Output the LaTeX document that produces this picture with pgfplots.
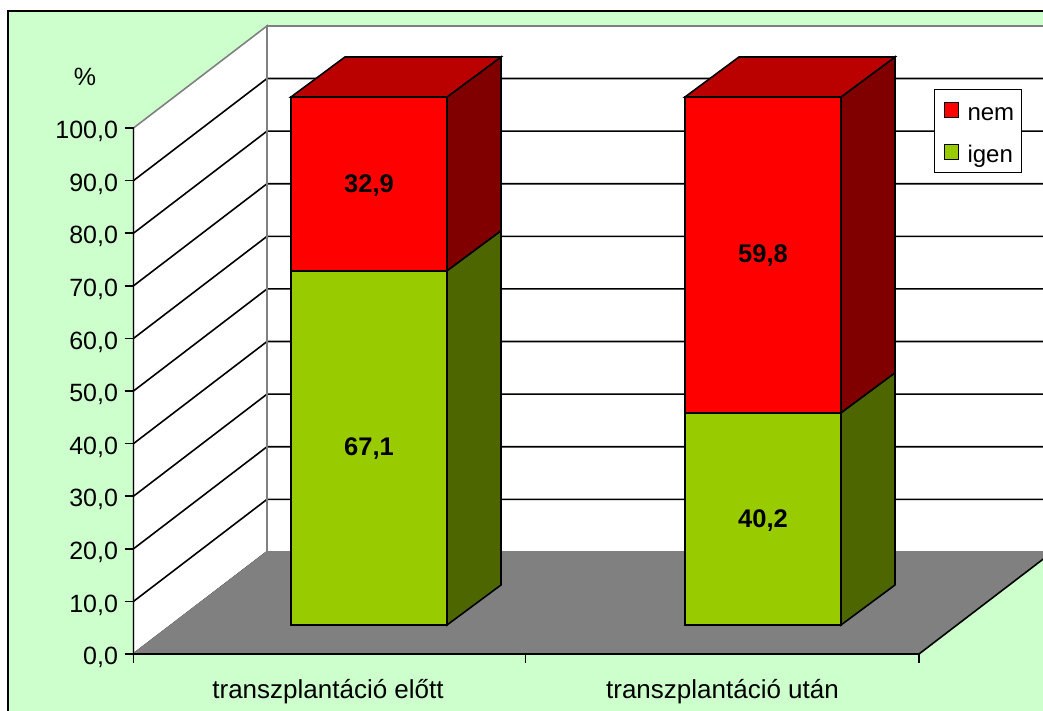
\documentclass[border=0pt]{standalone}
\usepackage{fontspec}
\setmainfont{Liberation Sans}
\usepackage{pgfplots}
\pgfplotsset{compat=1.18}
\definecolor{chartbg}{HTML}{CCFFCC}
\definecolor{wallgray}{HTML}{808080}
\definecolor{nemfront}{HTML}{FF0000}
\definecolor{nemtop}{HTML}{BB0000}
\definecolor{nemside}{HTML}{800000}
\definecolor{igenfront}{HTML}{99CC00}
\definecolor{igenside}{HTML}{4D6600}
\newcommand{\chartfont}{\fontsize{24}{28}\selectfont}
\newcommand{\tickfont}{\fontsize{25}{29}\selectfont}
\newcommand{\valuefont}{\fontsize{25.5}{29}\selectfont\bfseries}
\pgfplotsset{
    face/.style={draw=black, line width=1.6pt, line join=miter},
    swatch/.style={legend image code/.code={
        \path (-3.5pt,0pt) (20.5pt,0pt);
        \draw[draw=black, line width=1.4pt, fill=#1] (0pt,-7.5pt) rectangle (14.5pt,7.5pt);}},
    % the bars sit further forward than the axis, so they get their own scale
    baraxis/.style={
        at={(133.5pt,86pt)}, anchor=south west,
        scale only axis, width=785.5pt, height=528pt,
        xmin=133.5, xmax=919, ymin=0, ymax=100,
        clip=false, hide axis
    }
}
\begin{document}
\begin{tikzpicture}
\useasboundingbox (0,0) rectangle (1043pt,711pt);
\clip (0,0) rectangle (1043pt,711pt);
\fill[white] (0,0) rectangle (1043pt,711pt);
\draw[black, line width=2pt, fill=chartbg] (7.5pt,700pt) rectangle (1070pt,-20pt);

% walls, floor, value axis
\begin{axis}[
    at={(133.5pt,57pt)}, anchor=south west,
    scale only axis, width=785.5pt, height=526pt,
    xmin=133.5, xmax=919, ymin=0, ymax=100,
    clip=false,
    axis on top,
    axis lines=left,
    axis line style={-, line width=1.6pt, black},
    tick style={line width=1.6pt, black},
    tick align=outside,
    major tick length=9pt,
    ytick={0,10,...,100},
    xtick={133.5,525.5,919},
    xticklabels={,,},
    extra x ticks={328,722.5},
    extra x tick labels={transzplantáció előtt,transzplantáció után},
    extra x tick style={major tick length=0pt},
    xticklabel style={font=\fontsize{26}{30}\selectfont, yshift=-22pt},
    yticklabel style={font=\tickfont, xshift=-3pt, yshift=-3.5pt},
    /pgf/number format/assume math mode=true,
    /pgf/number format/fixed,
    /pgf/number format/fixed zerofill,
    /pgf/number format/precision=1,
    /pgf/number format/use comma
]
    \addplot[draw=wallgray, line width=1.6pt, fill=white] coordinates {(133.5,0) (267,19.4) (267,119.4) (133.5,100)} -- cycle;
    \addplot[draw=wallgray, line width=1.6pt, fill=white] coordinates {(267,19.4) (1070,19.4) (1070,119.4) (267,119.4)} -- cycle;
    \addplot[black, line width=1.6pt] coordinates {(133.5,0) (267,19.4) (1070,19.4)};
    \addplot[black, line width=1.6pt] coordinates {(133.5,10) (267,29.4) (1070,29.4)};
    \addplot[black, line width=1.6pt] coordinates {(133.5,20) (267,39.4) (1070,39.4)};
    \addplot[black, line width=1.6pt] coordinates {(133.5,30) (267,49.4) (1070,49.4)};
    \addplot[black, line width=1.6pt] coordinates {(133.5,40) (267,59.4) (1070,59.4)};
    \addplot[black, line width=1.6pt] coordinates {(133.5,50) (267,69.4) (1070,69.4)};
    \addplot[black, line width=1.6pt] coordinates {(133.5,60) (267,79.4) (1070,79.4)};
    \addplot[black, line width=1.6pt] coordinates {(133.5,70) (267,89.4) (1070,89.4)};
    \addplot[black, line width=1.6pt] coordinates {(133.5,80) (267,99.4) (1070,99.4)};
    \addplot[black, line width=1.6pt] coordinates {(133.5,90) (267,109.4) (1070,109.4)};
    \addplot[wallgray, line width=1.8pt] coordinates {(267,19.4) (267,119.4)};
    \addplot[draw=none, fill=wallgray] coordinates {(133.5,0) (267,19.4) (1070,19.4) (1070,0)} -- cycle;
    \addplot[wallgray, line width=1.8pt] coordinates {(133.5,0) (267,19.4) (1070,19.4)};
    \addplot[draw=none, fill=chartbg] coordinates {(919,0) (1052.5,19.4) (1070,19.4) (1070,0)} -- cycle;
    \addplot[black, line width=1.6pt] coordinates {(919,0) (1052.5,19.4)};
    \node[font=\tickfont] at (axis cs:85,109.7) {\%};
\end{axis}

% depth faces of the bars
\begin{axis}[baraxis]
    \addplot[face, fill=igenside] coordinates {(447,0) (501,7.58) (501,74.68) (447,67.1)} -- cycle;
    \addplot[face, fill=nemside] coordinates {(447,67.1) (501,74.68) (501,107.58) (447,100)} -- cycle;
    \addplot[face, fill=nemtop] coordinates {(291,100) (447,100) (501,107.58) (345,107.58)} -- cycle;
    \addplot[face, fill=igenside] coordinates {(841,0) (895,7.58) (895,47.78) (841,40.2)} -- cycle;
    \addplot[face, fill=nemside] coordinates {(841,40.2) (895,47.78) (895,107.58) (841,100)} -- cycle;
    \addplot[face, fill=nemtop] coordinates {(685,100) (841,100) (895,107.58) (739,107.58)} -- cycle;
\end{axis}

% front faces, legend
\begin{axis}[
    baraxis,
    ybar stacked,
    bar width=156,
    reverse legend,
    legend cell align=left,
    legend style={
        at={(axis cs:933.7,101.5)}, anchor=north west,
        draw=black, line width=1.4pt, fill=white,
        font=\chartfont, inner xsep=5.5pt, inner ysep=10pt,
        nodes={text height=21pt, text depth=0pt, inner ysep=0pt},
        row sep=21pt
    }
]
    \addplot[face, fill=igenfront, swatch=igenfront] coordinates {(369,67.1) (763,40.2)};
    \addlegendentry{igen}
    \addplot[face, fill=nemfront, swatch=nemfront] coordinates {(369,32.9) (763,59.8)};
    \addlegendentry{nem}
\end{axis}

% value labels go last, above the stacked bars
\begin{axis}[baraxis]
    \node[font=\valuefont] at (axis cs:369,33.4) {67,1};
    \node[font=\valuefont] at (axis cs:369,83.2) {32,9};
    \node[font=\valuefont] at (axis cs:763,19.8) {40,2};
    \node[font=\valuefont] at (axis cs:763,69.9) {59,8};
\end{axis}
\end{tikzpicture}
\end{document}
